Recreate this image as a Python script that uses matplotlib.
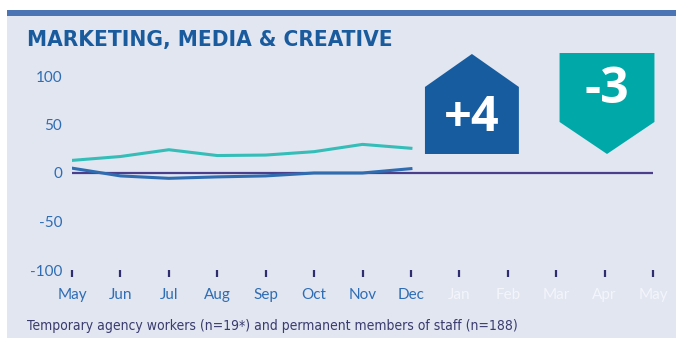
import matplotlib.pyplot as plt
from matplotlib.patches import Polygon, Rectangle

months = ['May', 'Jun', 'Jul', 'Aug', 'Sep', 'Oct', 'Nov', 'Dec',
          'Jan', 'Feb', 'Mar', 'Apr', 'May']
temp_agency = [13, 17, 24, 18, 18.5, 22, 29.5, 25.5]
permanent = [5, -3, -5.5, -4, -3, 0, 0, 4.5]
yticks = [-100, -50, 0, 50, 100]
badge_values = ['+4', '-3']

bg = '#E1E6F1'
dark_blue = '#1A5B9E'
teal_line = '#35BDB8'
blue_line = '#2F6CB0'
label_blue = '#2E6DB4'
purple = '#4B3F8C'

fig = plt.figure(figsize=(6.76, 3.38), dpi=100)
fig.patch.set_facecolor('white')
fig.patches.append(Rectangle((7/676, 0), 1, 1 - 10/338, transform=fig.transFigure,
                             facecolor=bg, edgecolor='none', zorder=-2))
fig.patches.append(Rectangle((7/676, 1 - 15.5/338), 1, 5.5/338, transform=fig.transFigure,
                             facecolor='#4A74B4', edgecolor='none', zorder=-1))

ax = fig.add_axes([72/676, 1 - 270/338, 581/676, 194/338])
ax.set_facecolor('none')
ax.set_xlim(0, 12)
ax.set_ylim(-100, 100)
for s in ax.spines.values():
    s.set_visible(False)

x = list(range(len(months)))
ax.plot(x, [0] * len(x), color=purple, lw=1.6, zorder=2)
ax.plot(x[:len(temp_agency)], temp_agency, color=teal_line, lw=2.2, zorder=3)
ax.plot(x[:len(permanent)], permanent, color=blue_line, lw=2.2, zorder=3)

ax.set_yticks(yticks)
ax.set_yticklabels([str(v) for v in yticks], family='Lato', fontsize=11, color=label_blue)
ax.tick_params(axis='y', length=0, pad=7)
ax.set_xticks(x)
ax.set_xticklabels(months, family='Lato', fontsize=11)
for i, t in enumerate(ax.get_xticklabels()):
    t.set_color(label_blue if i < len(temp_agency) else '#F3F5FA')
ax.tick_params(axis='x', direction='out', length=5, width=1.6, color='#2E2E6E', pad=8)

# change badges
hx, hw = 8.26, 1.94
house = [(hx - hw/2, 19.6), (hx - hw/2, 88.7), (hx, 122.7), (hx + hw/2, 88.7), (hx + hw/2, 19.6)]
ax.add_patch(Polygon(house, closed=True, facecolor='#175C9F', edgecolor='none', clip_on=False, zorder=4))
ax.text(hx, 56, badge_values[0], ha='center', va='center', color='white',
        fontsize=35, fontweight='bold', family='Open Sans', zorder=5)

dx, dw = 11.05, 1.96
arrow = [(dx - dw/2, 123.7), (dx + dw/2, 123.7), (dx + dw/2, 52.6), (dx, 19.6), (dx - dw/2, 52.6)]
ax.add_patch(Polygon(arrow, closed=True, facecolor='#00A9A8', edgecolor='none', clip_on=False, zorder=4))
ax.text(dx, 86, badge_values[1], ha='center', va='center', color='white',
        fontsize=36, fontweight='bold', family='Open Sans', zorder=5)

fig.text(27/676, 1 - 40/338, 'MARKETING, MEDIA & CREATIVE', family='DejaVu Sans',
         fontstretch='condensed', fontweight='bold',
         fontsize=16.2, color=dark_blue, va='center', ha='left')
fig.text(27/676, 1 - 326/338,
         'Temporary agency workers (n=19*) and permanent members of staff (n=188)',
         family='DejaVu Sans', fontstretch='condensed', fontsize=10,
         color='#3B3B6E', va='center', ha='left')

fig.savefig('out.png', dpi=100, facecolor=fig.get_facecolor())
